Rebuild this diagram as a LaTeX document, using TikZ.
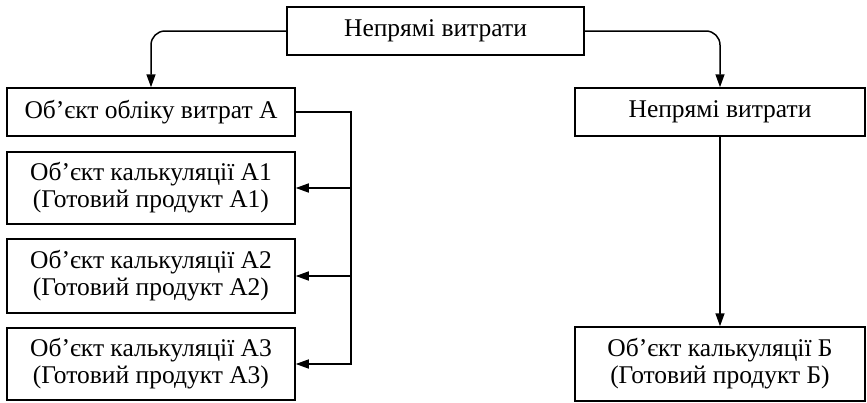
\documentclass[tikz,border=0pt]{standalone}
\usepackage{fontspec}
\setmainfont{Liberation Serif}
\usetikzlibrary{arrows.meta}
\begin{document}
\begin{tikzpicture}[x=1pt,y=-1pt,
  box/.style={draw, line width=1.5pt, rectangle, align=center, inner sep=0pt,
    font=\fontsize{25.5}{27}\selectfont},
  conn/.style={line width=1.5pt},
  arr/.style={conn, -{Stealth[length=13pt,width=9pt,inset=0pt]}}]
\useasboundingbox (0,0) rectangle (867,402);
\node[box, minimum width=297pt, minimum height=48pt] (top) at (435.5,31) {Непрямі витрати};
\node[box, minimum width=288pt, minimum height=48pt] (A) at (151,112) {Об’єкт обліку витрат А};
\node[box, minimum width=288pt, minimum height=72pt] (A1) at (151,188) {Об’єкт калькуляції А1\\(Готовий продукт А1)};
\node[box, minimum width=288pt, minimum height=74pt] (A2) at (151,276) {Об’єкт калькуляції А2\\(Готовий продукт А2)};
\node[box, minimum width=288pt, minimum height=72pt] (A3) at (151,364) {Об’єкт калькуляції А3\\(Готовий продукт А3)};
\node[box, minimum width=290pt, minimum height=48pt] (R) at (720,112) {Непрямі витрати};
\node[box, minimum width=290pt, minimum height=74pt] (B) at (720,364) {Об’єкт калькуляції Б\\(Готовий продукт Б)};
\coordinate (t1) at (351,112);
\draw[arr, rounded corners=14pt] (top.west) -| (A.north);
\draw[arr, rounded corners=14pt] (top.east) -| (R.north);
\draw[arr] (A.east) -- (t1) |- (A3.east);
\draw[arr] (t1 |- A1.east) -- (A1.east);
\draw[arr] (t1 |- A2.east) -- (A2.east);
\draw[arr] (R.south) -- (B.north);
\end{tikzpicture}
\end{document}
